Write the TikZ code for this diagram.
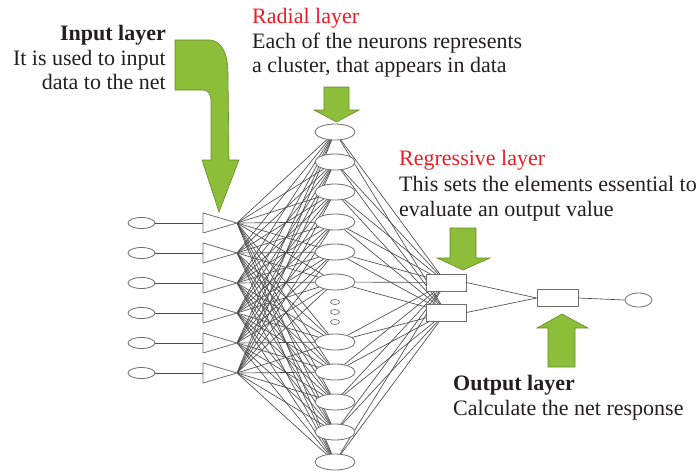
\documentclass[tikz,border=0pt]{standalone}
\usepackage{fontspec}
\setmainfont{Liberation Serif}
\usetikzlibrary{shapes.geometric,backgrounds}
\definecolor{arrowgreen}{RGB}{141,190,58}
\definecolor{arrowedge}{RGB}{100,138,42}
\definecolor{linegray}{RGB}{75,75,75}
\definecolor{shapegray}{RGB}{110,110,110}
\definecolor{textdark}{RGB}{35,31,32}
\definecolor{labelred}{RGB}{237,28,36}
\begin{document}
\begin{tikzpicture}[x=1pt,y=-1pt,
  link/.style={draw=linegray, line width=0.65pt},
  inellipse/.style={ellipse, draw=shapegray, fill=white, line width=0.8pt, minimum width=27pt, minimum height=11pt, inner sep=0pt},
  radnode/.style={ellipse, draw=shapegray, fill=white, line width=0.8pt, minimum width=40pt, minimum height=16pt, inner sep=0pt},
  dotnode/.style={ellipse, draw=shapegray, fill=white, line width=0.7pt, minimum width=9pt, minimum height=5pt, inner sep=0pt},
  boxnode/.style={rectangle, draw=shapegray, fill=white, line width=0.8pt, minimum width=40pt, minimum height=17pt, inner sep=0pt},
  outellipse/.style={ellipse, draw=shapegray, fill=white, line width=0.8pt, minimum width=27pt, minimum height=14pt, inner sep=0pt},
  tri/.style={draw=shapegray, fill=white, line width=0.8pt},
  greenarrow/.style={fill=arrowgreen, draw=arrowedge, line width=0.6pt},
  txt/.style={font=\fontsize{22}{25}\selectfont, text=textdark, inner sep=0pt},
  boldtxt/.style={font=\fontsize{22}{25}\selectfont\bfseries, text=textdark, inner sep=0pt},
  redtxt/.style={font=\fontsize{22}{25}\selectfont, text=labelred, inner sep=0pt}
]
\useasboundingbox (0,0) rectangle (699,472);

% input ellipses and triangles
\foreach \i in {1,...,6}{
  \pgfmathsetmacro{\yy}{223+30*(\i-1)}
  \node[inellipse] (e\i) at (141.5,\yy) {};
  \coordinate (b\i) at (203,\yy);
  \coordinate (t\i) at (237,\yy);
  \draw[tri] (203,\yy-10) -- (t\i) -- (203,\yy+10) -- cycle;
  \draw[link] (e\i) -- (b\i);
}

% radial nodes
\foreach \j/\yy in {1/132,2/162,3/192,4/222,5/252,6/282,7/342,8/372,9/402,10/432,11/462}{
  \node[radnode] (r\j) at (335,\yy) {};
}
\node[dotnode] (d1) at (335,302) {};
\node[dotnode] (d2) at (335,312) {};
\node[dotnode] (d3) at (335,322) {};

% regressive and output nodes
\node[boxnode] (g1) at (446,282.5) {};
\node[boxnode] (g2) at (446,312.5) {};
\node[boxnode, minimum width=41pt] (o) at (557.5,298) {};
\node[outellipse] (oe) at (638.5,300) {};

\begin{scope}[on background layer]
  \foreach \i in {1,...,6}{
    \foreach \j in {1,...,11}{
      \draw[link] (t\i) -- (r\j);
    }
  }
  \foreach \j in {1,...,11}{
    \draw[link] (r\j) -- (g1.center);
    \draw[link] (r\j) -- (g2.center);
  }
\end{scope}
\draw[link] (g1.east) -- (o.west);
\draw[link] (g2.east) -- (o.west);
\draw[link] (o.east) -- (oe.west);

% green arrows
\draw[greenarrow] (175,40) -- (210,40) .. controls (221,41) and (228,52) .. (228,74)
  -- (229,160) -- (239,160) -- (219,212) -- (202,160) -- (211,160) -- (211,101)
  .. controls (211,94) and (208,90) .. (203,90) -- (175,90) -- cycle;
\draw[greenarrow] (324,87) -- (349,87) -- (349,110) -- (359,110) -- (336.5,122) -- (314,110) -- (324,110) -- cycle;
\draw[greenarrow] (450,228) -- (476,228) -- (476,258) -- (490,258) -- (463,270) -- (437,258) -- (450,258) -- cycle;
\draw[greenarrow] (548,367) -- (575,367) -- (575,328) -- (588,328) -- (562,314) -- (537,328) -- (548,328) -- cycle;

% texts
\node[boldtxt, anchor=base east] (tin1) at (166,40) {Input layer};
\node[txt, anchor=base east] (tin2) at (166,65) {It is used to input};
\node[txt, anchor=base east] (tin3) at (166,89) {data to the net};

\node[redtxt, anchor=base west] (trad1) at (252,23) {Radial layer};
\node[txt, anchor=base west] (trad2) at (252,48) {Each of the neurons represents};
\node[txt, anchor=base west] (trad3) at (252,72) {a cluster, that appears in data};

\node[redtxt, anchor=base west] (treg1) at (399,165) {Regressive layer};
\node[txt, anchor=base west] (treg2) at (399,191) {This sets the elements essential to};
\node[txt, anchor=base west] (treg3) at (399,216) {evaluate an output value};

\node[boldtxt, anchor=base west] (tout1) at (453,390) {Output layer};
\node[txt, anchor=base west] (tout2) at (453,415) {Calculate the net response};
\end{tikzpicture}
\end{document}
